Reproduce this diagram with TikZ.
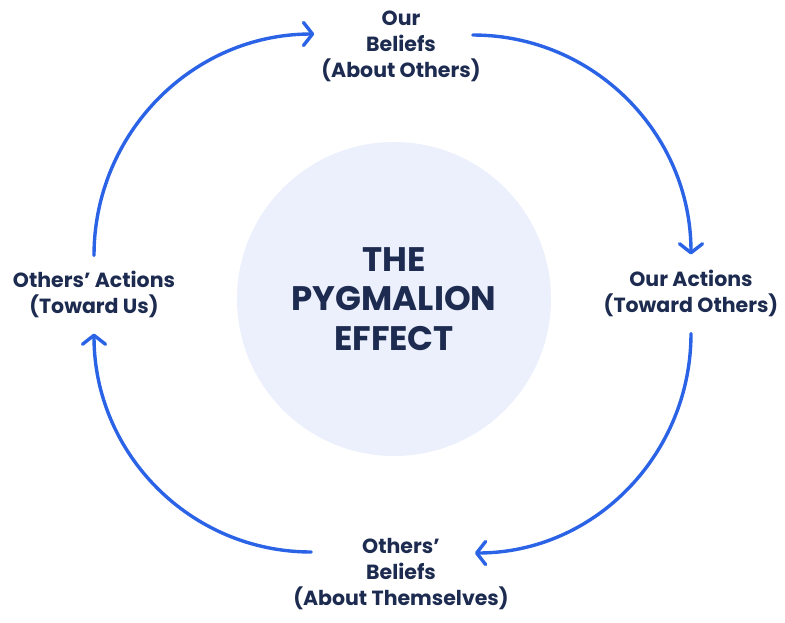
\documentclass[tikz,border=0pt]{standalone}
\usepackage{xcolor}
\usepackage{fontspec}
\setmainfont{Poppins}
\usepackage{tikz}
\usetikzlibrary{positioning, arrows.meta}

\definecolor{inkblue}{HTML}{1C2B4F}
\definecolor{flowblue}{HTML}{2B63E6}
\definecolor{corefill}{HTML}{ECF0FC}

\begin{document}
\begin{tikzpicture}[
    x=1pt, y=1pt,
    lbl/.style={align=center, inner sep=2pt, text=inkblue, font=\fontsize{20.5}{26}\selectfont\bfseries},
    core/.style={circle, fill=corefill, minimum size=314pt, align=center, text=inkblue, font=\fontsize{34}{39.5}\selectfont\bfseries},
    flow/.style={draw=flowblue, line width=3.4pt, line cap=round, -{Straight Barb[length=9pt, width=23pt, round]}}
]
\useasboundingbox (0,0) rectangle (785,-622);
\node[core] (pe) at (394, -299) {THE\\PYGMALION\\EFFECT};
\node[lbl] (tb) at (401, -46) {Our\\Beliefs\\(About Others)};
\node[lbl] (ra) at (691, -293) {Our Actions\\(Toward Others)};
\node[lbl] (bb) at (401, -574) {Others’\\Beliefs\\(About Themselves)};
\node[lbl] (la) at (94, -294) {Others’ Actions\\(Toward Us)};

\draw[flow] ([yshift=13pt]la.north) to[out=90, in=180] ([xshift=-5pt, yshift=12pt]tb.west);
\draw[flow] ([xshift=-10pt, yshift=11pt]tb.east) to[out=0, in=90] ([yshift=13pt]ra.north);
\draw[flow] ([yshift=-15pt]ra.south) to[out=-90, in=0] ([xshift=-36pt, yshift=21pt]bb.east);
\draw[flow] ([xshift=20pt, yshift=22pt]bb.west) to[out=180, in=-90] ([yshift=-14pt]la.south);
\end{tikzpicture}
\end{document}
